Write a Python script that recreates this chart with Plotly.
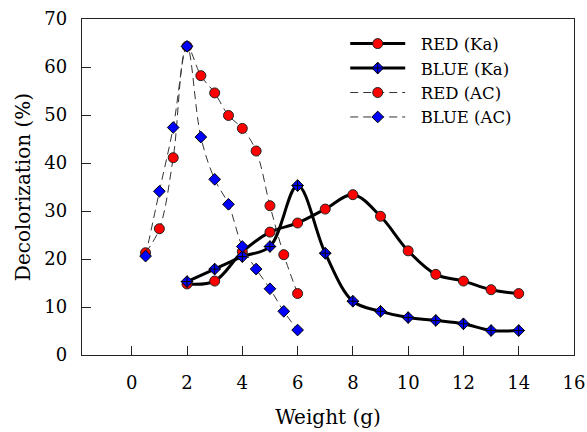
import plotly.graph_objects as go

# Decolorization (%) versus adsorbent weight (g)
ka_weight = [2, 3, 4, 5, 6, 7, 8, 9, 10, 11, 12, 13, 14]
red_ka = [14.8, 15.4, 21.5, 25.6, 27.5, 30.4, 33.4, 28.9, 21.7, 16.8, 15.4, 13.6, 12.8]
blue_ka = [15.3, 17.9, 20.5, 22.6, 35.3, 21.2, 11.2, 9.1, 7.8, 7.2, 6.5, 5.1, 5.1]

ac_weight = [0.5, 1, 1.5, 2, 2.5, 3, 3.5, 4, 4.5, 5, 5.5, 6]
red_ac = [21.3, 26.3, 41.1, 64.3, 58.2, 54.6, 49.9, 47.2, 42.5, 31.1, 20.9, 12.8]
blue_ac = [20.6, 34.1, 47.4, 64.3, 45.4, 36.6, 31.4, 22.6, 17.9, 13.8, 9.1, 5.2]

x_ticks = [0, 2, 4, 6, 8, 10, 12, 14, 16]
y_ticks = [0, 10, 20, 30, 40, 50, 60, 70]

FONT = "DejaVu Serif"
RED = "#ff0000"
BLUE = "#0000ff"
PAD = "\u00a0\u00a0"

fig = go.Figure()

fig.add_trace(go.Scatter(
    x=ka_weight, y=red_ka, name=PAD + "RED (Ka)", mode="lines+markers",
    line=dict(color="black", width=3, shape="spline", smoothing=1.0),
    marker=dict(symbol="circle", size=10, color=RED, line=dict(color="#222", width=1)),
))
fig.add_trace(go.Scatter(
    x=ka_weight, y=blue_ka, name=PAD + "BLUE (Ka)", mode="lines+markers",
    line=dict(color="black", width=3, shape="spline", smoothing=1.0),
    marker=dict(symbol="diamond-cross", size=9, color=BLUE, line=dict(color="black", width=1)),
))
fig.add_trace(go.Scatter(
    x=ac_weight, y=red_ac, name=PAD + "RED (AC)", mode="lines+markers",
    line=dict(color="#333", width=1, dash="8px,5px", shape="spline", smoothing=1.0),
    marker=dict(symbol="circle", size=10, color=RED, line=dict(color="#222", width=1)),
))
fig.add_trace(go.Scatter(
    x=ac_weight, y=blue_ac, name=PAD + "BLUE (AC)", mode="lines+markers",
    line=dict(color="#333", width=1, dash="8px,5px", shape="spline", smoothing=1.0),
    marker=dict(symbol="diamond", size=9, color=BLUE, line=dict(color="black", width=1)),
))

axis_common = dict(
    showline=True, mirror=True, linecolor="#222", linewidth=1.3,
    ticks="inside", ticklen=9, tickcolor="#222", tickwidth=1,
    showgrid=False, zeroline=False, automargin=False,
    tickfont=dict(family=FONT, size=18, color="black"),
)

fig.update_xaxes(
    range=[-1.8, 16], tickvals=x_ticks, ticklabelstandoff=11,
    title=dict(text="Weight (g)", font=dict(family=FONT, size=20, color="black"), standoff=18),
    **axis_common,
)
fig.update_yaxes(
    range=[0, 70], tickvals=y_ticks, ticklabelstandoff=10,
    title=dict(text="Decolorization (%)", font=dict(family=FONT, size=20, color="black"), standoff=8),
    **axis_common,
)

fig.update_layout(
    width=587, height=432,
    margin=dict(l=82, r=13, t=19, b=77),
    paper_bgcolor="white", plot_bgcolor="white",
    font=dict(family=FONT, color="black"),
    legend=dict(
        x=0.535, y=0.978, xanchor="left", yanchor="top",
        font=dict(family=FONT, size=16.5, color="black"),
        bgcolor="rgba(0,0,0,0)", itemwidth=55, tracegroupgap=0,
    ),
)

fig.write_html("out.html")
